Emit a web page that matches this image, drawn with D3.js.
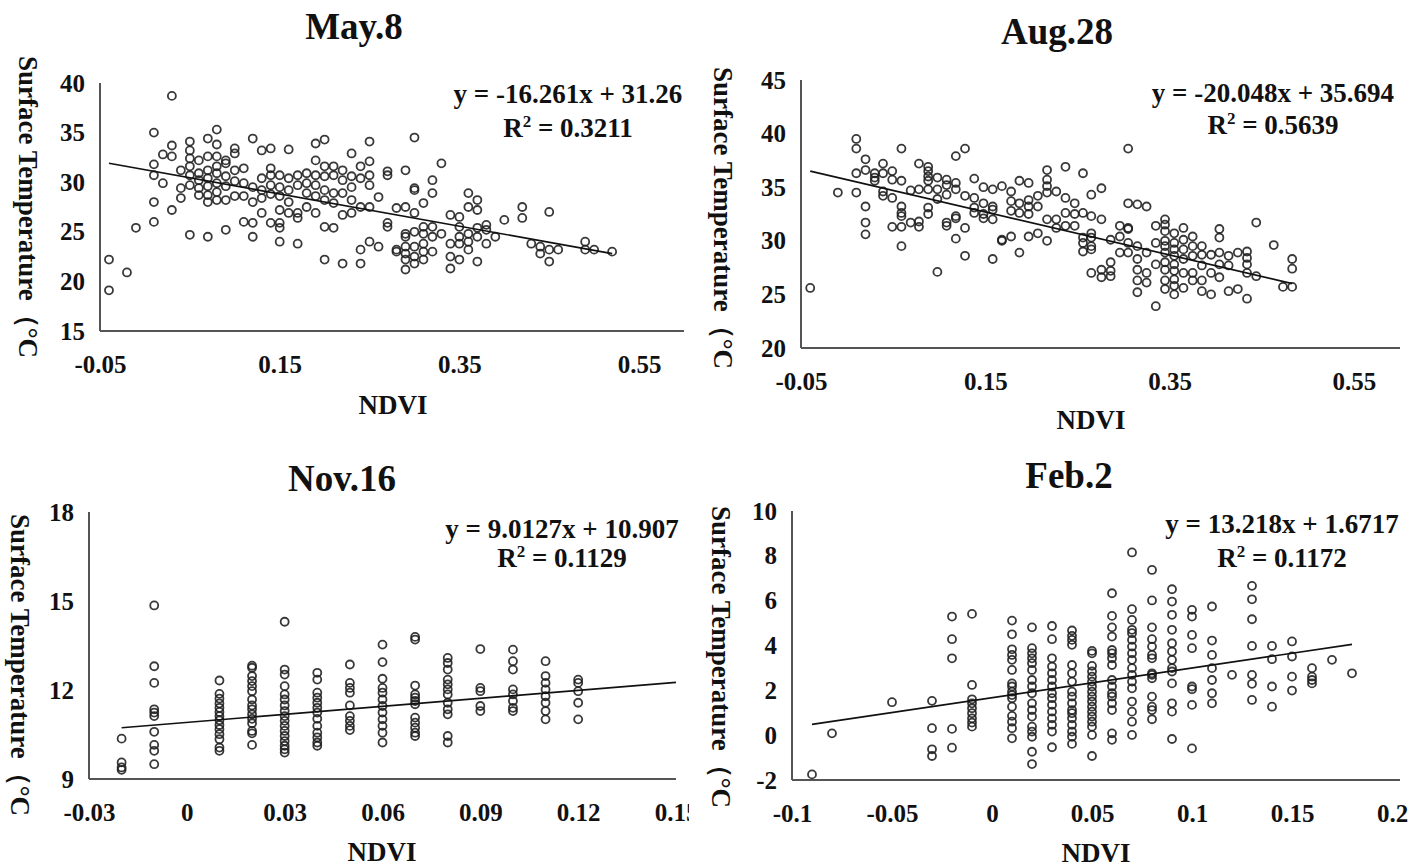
<!DOCTYPE html>
<html><head><meta charset="utf-8">
<script src="https://cdn.jsdelivr.net/npm/d3@7"></script>
<style>body{margin:0;background:#fff}</style>
</head><body>
<svg id="c" width="1424" height="867"></svg>
<script>
// ---------------- DATA ----------------
const titles = ["May.8", "Aug.28", "Nov.16", "Feb.2"];
const equations = ["y = -16.261x + 31.26", "y = -20.048x + 35.694", "y = 9.0127x + 10.907", "y = 13.218x + 1.6717"];
const r2Values = ["0.3211", "0.5639", "0.1129", "0.1172"];
const slopes = [-16.261, -20.048, 9.0127, 13.218];
const intercepts = [31.26, 35.694, 10.907, 1.6717];
const xLabel = "NDVI";
const yLabel = "Surface Temperature（°C";

const xTicksA = [-0.05, 0.15, 0.35, 0.55];
const xTicksNov = [-0.03, 0, 0.03, 0.06, 0.09, 0.12, 0.15];
const xTicksFeb = [-0.1, -0.05, 0, 0.05, 0.1, 0.15, 0.2];
const yTicksMay = [15, 20, 25, 30, 35, 40];
const yTicksAug = [20, 25, 30, 35, 40, 45];
const yTicksNov = [9, 12, 15, 18];
const yTicksFeb = [-2, 0, 2, 4, 6, 8, 10];

// each entry: [NDVI, [surface temperatures at that NDVI]]
const may8 = [
 [-0.04,[22.2,19.1]],[-0.02,[20.9]],[-0.01,[25.4]],
 [0.01,[35.0,31.8,30.7,28.0,26.0]],[0.02,[32.8,29.9]],[0.03,[38.7,33.7,32.6,27.2]],
 [0.04,[31.2,29.4,28.4]],[0.05,[34.1,33.2,32.4,31.6,30.7,29.7,24.7]],
 [0.06,[32.2,30.9,30.2,29.4,28.7]],[0.07,[34.4,32.6,31.2,30.4,29.6,28.7,28.0,24.5]],
 [0.08,[35.3,33.8,32.6,31.6,30.9,29.9,29.0,28.2]],[0.09,[32.2,31.9,30.6,29.6,28.2,25.2]],
 [0.10,[33.4,32.9,31.2,30.1,28.6]],[0.11,[31.4,29.9,28.6,26.0]],
 [0.12,[34.4,29.5,28.0,25.9,24.5]],[0.13,[33.2,30.4,29.2,28.4,26.9]],
 [0.14,[33.4,31.4,30.7,29.7,28.8,25.9]],[0.15,[30.7,29.5,28.6,27.2,25.9,25.4,24.0]],
 [0.16,[33.3,30.4,29.2,28.0,26.9]],[0.17,[30.7,29.7,26.9,26.4,23.8]],
 [0.18,[30.9,29.9,28.9,27.5]],[0.19,[33.9,32.2,30.7,29.7,28.6,26.9]],
 [0.20,[34.3,31.6,30.6,29.2,28.2,25.5,22.2]],[0.21,[31.6,30.7,28.9,27.9,25.4]],
 [0.22,[31.2,30.2,28.9,26.7,21.8]],[0.23,[32.9,30.6,29.5,28.2,26.9]],
 [0.24,[31.6,30.4,27.5,23.2,21.8]],[0.25,[34.1,32.1,30.7,29.7,27.5,24.0]],
 [0.26,[28.5,23.5]],[0.27,[31.1,30.7,25.9,25.5]],[0.28,[27.4,23.2,23.0]],
 [0.29,[31.2,27.5,24.8,24.5,23.5,22.8,22.2,21.2]],[0.30,[34.5,29.4,29.2,26.9,25.0,23.5,22.5,21.8]],
 [0.31,[27.9,25.5,24.8,23.8,23.0,22.2]],[0.32,[30.2,28.9,25.5,24.5,23.0]],
 [0.33,[31.9,24.8]],[0.34,[26.7,23.8,22.5,21.3]],[0.35,[26.5,25.5,24.5,23.8,22.2]],
 [0.36,[28.9,27.5,24.8,24.0,23.2]],[0.37,[28.2,27.2,25.4,24.5,22.0]],
 [0.38,[25.7,25.2,23.8]],[0.39,[24.5]],[0.40,[26.2]],[0.42,[27.5,26.4]],[0.43,[23.8]],
 [0.44,[23.5,22.8]],[0.45,[27.0,23.2,22.0]],[0.46,[23.2]],[0.49,[24.0,23.2]],
 [0.50,[23.2]],[0.52,[23.0]]
];
const aug28 = [
 [-0.040,[25.6]],[-0.010,[34.5]],[0.010,[39.5,38.6,36.3,34.5]],[0.020,[37.6,36.6,33.2,31.7,30.6]],
 [0.030,[36.3,35.9,35.6]],[0.039,[37.2,36.3,34.6,34.2]],[0.049,[36.5,35.7,34.0,31.3]],
 [0.059,[38.6,35.6,33.2,32.6,32.3,31.3,29.5]],[0.069,[34.7,31.7]],[0.078,[37.2,34.8,31.8,31.3]],
 [0.088,[36.9,36.5,36.0,35.6,34.8,33.1,32.5]],[0.098,[35.9,34.8,33.9,27.1]],
 [0.108,[35.7,35.2,34.3,31.7,31.4]],[0.118,[37.9,35.4,34.8,32.3,32.1,30.2]],
 [0.128,[38.6,34.2,31.2,28.6]],[0.138,[35.8,34.0,33.1,32.6]],[0.148,[35.0,33.5,32.5,32.1]],
 [0.158,[34.8,33.2,32.9,32.0,28.3]],[0.168,[35.1,30.1,30.0]],[0.178,[34.6,33.7,32.8,30.4]],
 [0.187,[35.6,33.5,32.6,28.9]],[0.197,[35.4,33.8,33.2,32.5,30.4]],[0.207,[34.2,33.2,30.7]],
 [0.217,[36.6,35.7,35.1,34.5,32.0,30.0]],[0.227,[34.6,32.0,31.2]],[0.237,[36.9,34.0,32.6,31.4]],
 [0.247,[33.5,32.5,31.4]],[0.256,[36.3,32.6,30.3,29.8,29.0]],
 [0.265,[34.3,32.3,30.7,30.3,29.5,29.2,27.0]],[0.276,[34.9,32.0,27.3,26.6]],
 [0.286,[30.1,28.0,27.2,26.7]],[0.296,[31.4,30.4,28.9]],[0.305,[38.6,33.5,31.2,31.1,29.8,28.9]],
 [0.315,[33.4,29.5,28.3,27.3,26.3,25.2]],[0.325,[33.2,28.9,27.0,26.1]],[0.335,[31.4,29.8,27.8,23.9]],
 [0.345,[32.0,31.5,30.9,30.0,29.5,28.9,28.0,27.3,26.3,25.5]],
 [0.355,[30.7,29.8,29.2,28.6,27.8,27.2,26.4,25.8,25.0]],
 [0.365,[31.2,30.1,29.2,28.3,27.0,25.6]],[0.375,[30.4,29.5,28.6,27.0,26.3]],
 [0.385,[29.5,28.7,27.7,26.3,25.3]],[0.395,[28.7,27.0,25.0]],[0.404,[31.1,30.3,28.9,27.8,26.6]],
 [0.414,[28.6,27.7,25.3]],[0.424,[28.9,25.5]],[0.434,[29.0,28.4,27.8,27.0,24.6]],
 [0.444,[31.7,26.7]],[0.463,[29.6]],[0.473,[25.7]],[0.483,[28.3,27.4,25.7]]
];
const nov16 = [
 [-0.02,[10.36,9.56,9.39,9.31]],
 [-0.01,[14.85,12.80,12.24,11.35,11.24,11.12,10.59,10.15,9.95,9.50]],
 [0.01,[12.32,11.87,11.71,11.55,11.40,11.26,11.12,10.98,10.82,10.68,10.51,10.34,10.06,9.95]],
 [0.02,[12.82,12.75,12.47,12.30,12.13,11.96,11.68,11.48,11.35,11.18,11.03,10.88,10.62,10.54,10.15]],
 [0.03,[14.30,12.69,12.52,12.13,11.85,11.68,11.48,11.29,11.12,10.96,10.79,10.62,10.45,10.28,10.12,10.00,9.89]],
 [0.04,[12.58,12.35,11.91,11.74,11.57,11.40,11.24,11.03,10.79,10.56,10.40,10.23,10.12]],
 [0.05,[12.86,12.24,12.07,11.91,11.48,11.12,10.96,10.79,10.65]],
 [0.06,[13.53,12.94,12.38,12.07,11.91,11.68,11.46,11.24,11.01,10.79,10.56,10.23]],
 [0.07,[13.79,13.70,12.15,11.85,11.74,11.63,11.52,11.07,10.90,10.73,10.56,10.45]],
 [0.08,[13.08,12.91,12.69,12.35,12.19,12.02,11.85,11.57,11.35,11.18,10.45,10.23]],
 [0.09,[13.38,12.07,11.96,11.46,11.29]],
 [0.10,[13.36,12.97,12.69,12.02,11.85,11.63,11.40,11.29]],
 [0.11,[12.97,12.47,12.24,12.02,11.79,11.57,11.29,11.01]],
 [0.12,[12.35,12.24,11.96,11.57,11.01]]
];
const feb2 = [
 [-0.09,[-1.75]],[-0.08,[0.08]],[-0.05,[1.47]],[-0.03,[1.53,0.31,-0.63,-0.93]],
 [-0.02,[5.29,4.28,3.43,0.28,-0.56]],[-0.01,[5.41,2.24,1.60,1.42,1.20,0.98,0.75,0.56,0.38]],
 [0.01,[5.11,4.50,3.83,3.58,3.36,2.91,2.31,2.17,1.94,1.79,1.65,1.27,0.86,0.60,0.31,-0.14]],
 [0.02,[4.81,3.88,3.65,3.43,3.21,2.91,2.46,2.17,1.87,1.42,1.12,0.83,0.38,0.16,-0.07,-0.74,-1.29]],
 [0.03,[4.87,4.28,3.43,3.06,2.76,2.46,2.17,1.87,1.65,1.35,1.05,0.75,0.46,0.16,-0.54]],
 [0.04,[4.67,4.43,4.25,4.03,3.13,2.76,2.39,1.94,1.72,1.42,1.12,0.98,0.75,0.46,0.16,-0.07,-0.39]],
 [0.05,[3.76,3.65,3.09,2.84,2.61,2.39,2.17,1.94,1.72,1.50,1.27,1.05,0.83,0.60,0.38,0.01,-0.93]],
 [0.06,[6.33,5.32,4.81,4.40,3.80,3.65,3.43,3.13,2.46,2.17,1.87,1.72,1.42,1.12,0.08,-0.21]],
 [0.07,[8.15,5.62,5.14,4.70,4.55,4.25,3.95,3.65,3.36,2.99,2.69,2.39,2.09,1.50,1.05,0.60,0.01]],
 [0.08,[7.37,6.01,4.81,4.28,3.95,3.58,3.43,2.76,2.69,2.54,1.72,1.27,1.12,0.71]],
 [0.09,[6.51,5.96,5.37,4.70,4.10,3.73,3.36,2.99,2.84,2.31,1.42,1.05,-0.17]],
 [0.10,[5.59,5.29,4.47,3.88,2.17,2.05,1.35,-0.59]],
 [0.11,[5.74,4.22,3.58,2.99,2.46,1.87,1.42]],[0.12,[2.69]],
 [0.13,[6.66,6.06,5.17,3.98,2.69,2.29,1.57]],[0.14,[3.98,3.39,2.17,1.27]],
 [0.15,[4.18,3.51,2.61,1.99]],[0.16,[2.99,2.61,2.46,2.31]],[0.17,[3.36]],[0.18,[2.76]]
];

// ---------------- LAYOUT ----------------
const FONT = "'Liberation Serif','Times New Roman',serif";
const panels = [
 {data:may8, xd:[-0.05,0.6], xr:[100,684], yd:[15,40], yr:[331,83], xt:xTicksA, yt:yTicksMay,
  title:[354,39], eq:[568,103,137], nd:[393,414], yl:[28,207], fitToAxis:false, xEnd:684},
 {data:aug28, xd:[-0.05,0.6], xr:[801,1400], yd:[20,45], yr:[348,80], xt:xTicksA, yt:yTicksAug,
  title:[1057,44], eq:[1273,102,134], nd:[1091,429], yl:[723,218], fitToAxis:false, xEnd:1400},
 {data:nov16, xd:[-0.03,0.15], xr:[89,676], yd:[9,18], yr:[779,512], xt:xTicksNov, yt:yTicksNov,
  title:[342,491], eq:[562,538,567], nd:[382,861], yl:[20,665], fitToAxis:true, xEnd:676, clip:689},
 {data:feb2, xd:[-0.1,0.2], xr:[792,1392], yd:[-2,10], yr:[780,511], xt:xTicksFeb, yt:yTicksFeb,
  title:[1069,488], eq:[1282,533,567], nd:[1096,862], yl:[721,657], fitToAxis:false, xEnd:1400}
];

const svg = d3.select("#c");
const defs = svg.append("defs");
const fmt = v => v === 0 ? "0" : String(+v.toFixed(3));

panels.forEach((p, i) => {
  let g = svg.append("g");
  if (p.clip) {
    defs.append("clipPath").attr("id","clip"+i).append("rect")
      .attr("x", 0).attr("y", 430).attr("width", p.clip).attr("height", 437);
    g.attr("clip-path", `url(#clip${i})`);
  }
  const x = d3.scaleLinear().domain(p.xd).range(p.xr);
  const y = d3.scaleLinear().domain(p.yd).range(p.yr);
  const pts = p.data.flatMap(([nx, ts]) => ts.map(t => ({x:nx, y:t})));

  // axes
  const xa = g.append("g").attr("transform", `translate(0,${p.yr[0]})`)
    .call(d3.axisBottom(x).tickValues(p.xt).tickFormat(fmt).tickSize(0).tickPadding(24));
  xa.select(".domain").remove();
  const ya = g.append("g").attr("transform", `translate(${p.xr[0]},0)`)
    .call(d3.axisLeft(y).tickValues(p.yt).tickFormat(fmt).tickSize(0).tickPadding(15));
  ya.select(".domain").remove();
  g.selectAll(".tick text").attr("font-family", FONT).attr("font-weight", "bold")
    .attr("font-size", 25).attr("fill", "#111");

  g.append("line").attr("x1", p.xr[0]).attr("x2", p.xEnd).attr("y1", p.yr[0]).attr("y2", p.yr[0])
    .attr("stroke", "#555").attr("stroke-width", 2);
  g.append("line").attr("x1", p.xr[0]).attr("x2", p.xr[0]).attr("y1", p.yr[1]).attr("y2", p.yr[0])
    .attr("stroke", "#555").attr("stroke-width", 2);

  // points
  g.append("g").selectAll("circle").data(pts).join("circle")
    .attr("cx", d => x(d.x)).attr("cy", d => y(d.y)).attr("r", 4)
    .attr("fill", "none").attr("stroke", "#1e1e1e").attr("stroke-opacity", 0.88).attr("stroke-width", 1.8);

  // trend line
  const x0 = d3.min(pts, d => d.x);
  const x1 = p.fitToAxis ? p.xd[1] : d3.max(pts, d => d.x);
  const f = v => slopes[i] * v + intercepts[i];
  g.append("line").attr("x1", x(x0)).attr("y1", y(f(x0))).attr("x2", x(x1)).attr("y2", y(f(x1)))
    .attr("stroke", "#111").attr("stroke-width", 1.7);

  // texts
  g.append("text").attr("x", p.title[0]).attr("y", p.title[1]).attr("text-anchor", "middle")
    .attr("font-family", FONT).attr("font-weight", "bold").attr("font-size", 37).attr("fill", "#111")
    .text(titles[i]);
  g.append("text").attr("x", p.eq[0]).attr("y", p.eq[1]).attr("text-anchor", "middle")
    .attr("font-family", FONT).attr("font-weight", "bold").attr("font-size", 27).attr("fill", "#111")
    .text(equations[i]);
  const r2 = g.append("text").attr("x", p.eq[0]).attr("y", p.eq[2]).attr("text-anchor", "middle")
    .attr("font-family", FONT).attr("font-weight", "bold").attr("font-size", 27).attr("fill", "#111");
  r2.append("tspan").text("R");
  r2.append("tspan").attr("font-size", 17).attr("dy", -10).text("2");
  r2.append("tspan").attr("dy", 10).text(" = " + r2Values[i]);
  g.append("text").attr("x", p.nd[0]).attr("y", p.nd[1]).attr("text-anchor", "middle")
    .attr("font-family", FONT).attr("font-weight", "bold").attr("font-size", 27).attr("fill", "#111")
    .text(xLabel);
  g.append("text").attr("transform", `translate(${p.yl[0] - 9},${p.yl[1]}) rotate(90)`)
    .attr("text-anchor", "middle")
    .attr("font-family", FONT).attr("font-weight", "bold").attr("font-size", 27).attr("fill", "#111")
    .text(yLabel);
});
</script>
</body></html>
